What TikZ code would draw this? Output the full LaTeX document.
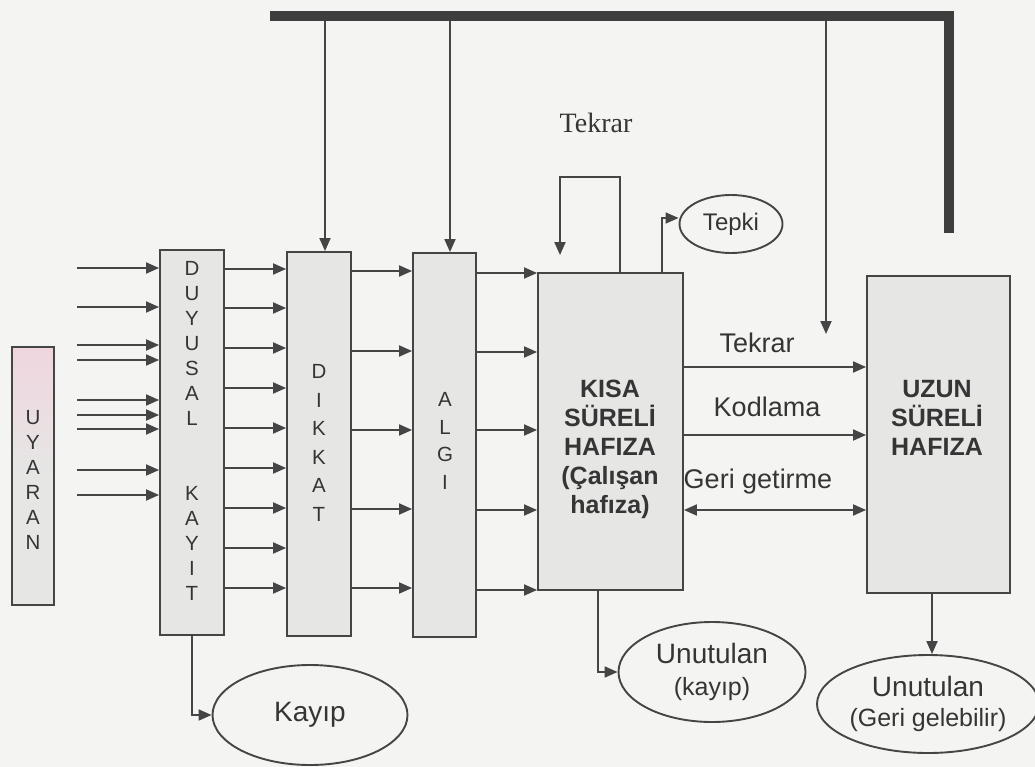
\documentclass[tikz,border=0pt]{standalone}
\usepackage{fontspec}
\setmainfont{Liberation Sans}
\newfontfamily\tekserif{Liberation Serif}
\usetikzlibrary{arrows.meta,shapes.geometric,calc}
\definecolor{ink}{HTML}{454545}
\definecolor{thickc}{HTML}{3E3E3E}
\definecolor{txt}{HTML}{353535}
\definecolor{paper}{HTML}{F4F4F2}
\definecolor{boxfill}{HTML}{E6E6E5}
\definecolor{pinkish}{HTML}{EFD6DE}
\begin{document}
\begin{tikzpicture}[x=1pt,y=-1pt,
  box/.style={draw=ink,line width=1.9pt,fill=boxfill,inner sep=0pt},
  oval/.style={ellipse,draw=ink,line width=1.9pt,fill=paper,inner sep=0pt,text=txt},
  arr/.style={draw=ink,line width=1.9pt,-{Triangle[length=13pt,width=11pt]}},
  darr/.style={draw=ink,line width=1.9pt,{Triangle[length=13pt,width=11pt]}-{Triangle[length=13pt,width=11pt]}},
  vlet/.style={align=center,text=txt,font=\fontsize{20.5}{25}\selectfont,inner sep=0pt},
  lbl/.style={text=txt,font=\fontsize{27}{30}\selectfont,inner sep=0pt},
  big/.style={align=center,text=txt,font=\bfseries\fontsize{25}{29}\selectfont,inner sep=0pt},
]
\fill[paper] (0,0) rectangle (1035,767);
\useasboundingbox (0,0) rectangle (1035,767);

% boxes
\node[box, top color=pinkish, bottom color=boxfill, middle color=boxfill, minimum width=42pt, minimum height=258pt] (uyaran) at (33,476) {};
\node[box, minimum width=64pt, minimum height=385pt] (duyusal) at (192,442.5) {};
\node[box, minimum width=64pt, minimum height=384pt] (dikkat) at (319,444) {};
\node[box, minimum width=63pt, minimum height=384pt] (algi) at (444.5,445) {};
\node[box, minimum width=145pt, minimum height=317pt] (kisa) at (610.5,431.5) {};
\node[box, minimum width=143pt, minimum height=317pt] (uzun) at (938.5,434.5) {};

% ellipses
\node[oval, minimum width=103pt, minimum height=58pt, font=\fontsize{24}{28}\selectfont] (tepki) at (731,224) {Tepki};
\node[oval, minimum width=187pt, minimum height=100pt, align=center, font=\fontsize{28}{32}\selectfont] (unut1) at (712,672) {Unutulan\\{\fontsize{25}{32}\selectfont(kayıp)}};
\node[oval, minimum width=187pt, minimum height=98pt, align=center, font=\fontsize{28}{30}\selectfont] (unut2) at (928,704) {Unutulan\\{\fontsize{25}{30}\selectfont(Geri gelebilir)}};
\node[oval, minimum width=195pt, minimum height=100pt, font=\fontsize{28}{32}\selectfont] (kayip) at (310,715) {Kayıp};

% box texts
\node[vlet] (uyaranT) at (33,480) {U\\Y\\A\\R\\A\\N};
\node[vlet] (duyusalT) at (192,431) {D\\U\\Y\\U\\S\\A\\L\\[50pt]K\\A\\Y\\I\\T};
\node[vlet, font=\fontsize{20.5}{28.6}\selectfont] (dikkatT) at (319,443) {D\\I\\K\\K\\A\\T};
\node[vlet, font=\fontsize{20.5}{27.7}\selectfont] (algiT) at (445,441) {A\\L\\G\\I};
\node[big] (kisaT) at (610,449) {KISA\\SÜRELİ\\HAFIZA\\(Çalışan\\hafıza)};
\node[big] (uzunT) at (937,418) {UZUN\\SÜRELİ\\HAFIZA};

% thick top line
\coordinate (tl) at (270,16);
\coordinate (tr) at (949,16);
\coordinate (te) at (949,233);
\draw[draw=thickc, line width=10pt] (tl) -- (tr) -- (te);

% down arrows from the thick line
\coordinate (d1) at (325,21);
\draw[arr] (d1) -- (d1 |- dikkat.north);
\coordinate (d2) at (450,21);
\draw[arr] (d2) -- (d2 |- algi.north);
\coordinate (d3) at (826,21);
\coordinate (d3e) at (826,334);
\draw[arr] (d3) -- (d3e);

% inputs
\foreach \y [count=\i] in {268,307,345,360,400,415,429,470,495} {
  \coordinate (in\i) at (77,\y);
  \draw[arr] (in\i) -- (in\i -| duyusal.west);
}
\foreach \y in {269,308,348,388,428,468,508,548,588}
  \draw[arr] (duyusal.east |- 0,\y) -- (dikkat.west |- 0,\y);
\foreach \y in {271,351,430,509,588}
  \draw[arr] (dikkat.east |- 0,\y) -- (algi.west |- 0,\y);
\foreach \y in {273,352,430,510,590}
  \draw[arr] (algi.east |- 0,\y) -- (kisa.west |- 0,\y);

% Tekrar loop
\node[text=txt, inner sep=0pt, font=\tekserif\fontsize{28}{30}\selectfont] (tekrarTop) at (596,123) {Tekrar};
\coordinate (lpR) at (620,177);
\coordinate (lpL) at (560,177);
\draw[arr, shorten >=17pt] (lpR |- kisa.north) -- (lpR) -- (lpL) -- (lpL |- kisa.north);

% Tepki
\coordinate (tp) at (662,218);
\draw[arr] (tp |- kisa.north) -- (tp) -- (tp -| tepki.west);

% STM <-> LTM
\coordinate (m1) at (0,367);
\coordinate (m2) at (0,435);
\coordinate (m3) at (0,510);
\draw[arr] (kisa.east |- m1) -- (uzun.west |- m1);
\draw[arr] (kisa.east |- m2) -- (uzun.west |- m2);
\draw[darr] (kisa.east |- m3) -- (uzun.west |- m3);
\node[lbl] (lTekrar) at (757,343) {Tekrar};
\node[lbl] (lKod) at (767,407) {Kodlama};
\node[lbl] (lGeri) at (758,482) {Geri getirme};

% forgetting
\coordinate (u1) at (598,672);
\draw[arr] (u1 |- kisa.south) -- (u1) -- (unut1.west);
\coordinate (u2) at (932,0);
\draw[arr] (u2 |- uzun.south) -- (u2 |- unut2.north);
\coordinate (k1) at (192,715);
\draw[arr] (duyusal.south) -- (k1) -- (kayip.west);
\end{tikzpicture}
\end{document}
